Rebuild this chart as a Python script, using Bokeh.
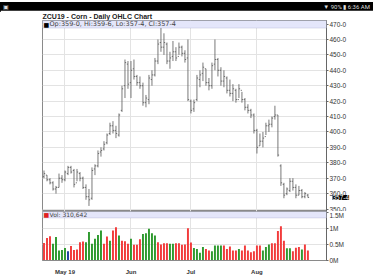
from bokeh.plotting import figure
from bokeh.models import Div, Label, BoxAnnotation, FixedTicker, Range1d
from bokeh.layouts import column
from bokeh.embed import file_html
from bokeh.resources import INLINE

# ---------------- data ----------------
dates = ["Apr 22","Apr 23","Apr 24","Apr 25","Apr 26","Apr 29","Apr 30",
         "May 1","May 2","May 3","May 6","May 7","May 8","May 9","May 10","May 13","May 14","May 15","May 16","May 17",
         "May 20","May 21","May 22","May 23","May 24","May 28","May 29","May 30","May 31",
         "Jun 3","Jun 4","Jun 5","Jun 6","Jun 7","Jun 10","Jun 11","Jun 12","Jun 13","Jun 14","Jun 17","Jun 18",
         "Jun 19","Jun 20","Jun 21","Jun 24","Jun 25","Jun 26","Jun 27","Jun 28",
         "Jul 1","Jul 2","Jul 3","Jul 5","Jul 8","Jul 9","Jul 10","Jul 11","Jul 12","Jul 15","Jul 16","Jul 17",
         "Jul 18","Jul 19","Jul 22","Jul 23","Jul 24","Jul 25","Jul 26","Jul 29","Jul 30","Jul 31",
         "Aug 1","Aug 2","Aug 5","Aug 6","Aug 7","Aug 8","Aug 9","Aug 12","Aug 13","Aug 14","Aug 15","Aug 16",
         "Aug 19","Aug 20","Aug 21","Aug 22","Aug 23","Aug 26"]

opens  = [371,372,369,367,363,364,370,369,373,377,375,367,373,370,364,358,357,376,378,387,389,393,399,404,401,398,414,430,444,
          432,441,436,432,430,419,421,434,437,446,458,455,457,446,449,452,449,455,451,448,
          420,415,421,434,438,441,432,430,444,447,440,433,435,427,425,427,421,427,421,416,414,411,
          401,391,394,397,404,405,410,411,378,366,360,362,368,364,359,362,358,359]
highs  = [375,372,370,368,365,373,372,375,378,378,376,376,374,371,366,363,377,379,388,390,394,399,406,407,404,412,430,447,446,
          446,447,437,436,432,424,437,440,448,460,469,464,458,452,459,455,458,456,453,460,
          421,421,437,440,445,441,435,445,460,448,442,440,436,434,431,428,431,426,422,418,415,412,
          402,399,400,406,408,410,417,411,379,367,364,370,370,366,365,363,361,359.75]
lows   = [370,368,366,362,360,364,367,368,372,373,364,368,368,363,356,352,356,372,377,384,388,392,398,399,396,397,413,422,428,
          422,434,430,428,417,416,418,430,436,444,452,450,444,441,446,446,450,449,445,420,
          412,413,420,429,433,430,427,428,440,436,430,429,425,423,420,419,422,419,414,412,409,399,
          386,391,390,398,400,403,408,384,365,357,359,361,362,357,359,357,357,357.5]
closes = [373,369,367,363,364,370,369,374,377,374,366,374,370,364,358,356,375,378,386,388,392,398,404,401,399,411,428,445,431,
          440,436,432,430,419,422,435,437,446,457,455,458,446,448,452,448,455,451,447,421,
          414,419,435,437,442,432,430,443,447,440,433,436,427,425,428,421,428,421,416,414,411,401,
          390,394,396,404,405,409,411,385,367,359,363,368,364,359,362,358,360,357.5]
volumes = [550000,700000,760000,520000,730000,310000,330000,390000,290000,450000,330000,340000,570000,590000,570000,
           890000,520000,680000,800000,940000,520000,750000,620000,940000,1040000,780000,620000,600000,520000,
           680000,490000,490000,660000,830000,850000,990000,850000,780000,570000,500000,540000,540000,520000,
           520000,540000,540000,490000,500000,1010000,
           560000,390000,360000,240000,420000,360000,310000,290000,470000,470000,470000,470000,360000,440000,
           310000,310000,360000,310000,470000,310000,260000,290000,470000,470000,310000,420000,500000,540000,
           540000,920000,1070000,620000,380000,380000,290000,400000,420000,340000,500000,310642]
vol_dir = ["d","d","d","u","u","u","u","u","n","d","d","d","d","d","u","u","u","u","u","u","d","d","u","d","d","u",
           "d","d","d","u","d","d","d","u","u","u","u","u","d","d","d","d","u","u","d","d","d","d","d",
           "d","u","u","u","u","d","d","u","u","u","u","d","d","d","d","d","u","d","d","d","d","d","d","d",
           "u","u","u","d","d","d","d","d","u","u","d","d","d","u","d","d"]
month_ticks = [7, 29, 49, 71]
month_labels = ["May 19", "Jun", "Jul", "Aug"]
price_ticks = list(range(350, 480, 10))
vol_ticks = [0, 0.5, 1, 1.5]

# ---------------- helpers ----------------
def eighths(val):
    whole = int(val)
    return f"{whole}-{int(round((val - whole) * 8))}"

idx = list(range(len(dates)))
vol_m = [x / 1e6 for x in volumes]
dir_colors = {"u": "#2f9a2f", "d": "#f23b3b", "n": "#1f3f9f"}
vcolors = [dir_colors[d] for d in vol_dir]

FONT = "Liberation Sans"
x_rng = Range1d(-0.5, 94.2)
grid_col = "#e3e3e3"
frame_col = "#8a8a8a"

# ---------------- status bar ----------------
status = Div(text='<div style="width:373px;height:10px;background:#000;color:#ddd;font:6px Roboto;'
                  'line-height:10px;position:relative;overflow:hidden">'
                  '<span style="position:absolute;left:3px;top:0">&#9635;</span>'
                  '<span style="position:absolute;right:3px;top:0">&#9660; 90% &#9646; 6:36 AM</span></div>',
             width=373, height=10, margin=(0, 0, 0, 0))

# ---------------- price panel ----------------
p = figure(width=373, height=201, x_range=x_rng, y_range=Range1d(348.4, 472.3),
           output_backend="svg", toolbar_location=None, x_axis_location=None,
           y_axis_location="right", min_border_left=42, min_border_right=47,
           min_border_top=0, min_border_bottom=0)
p.title.text = "ZCU19 - Corn - Daily OHLC Chart"
p.title.text_font = FONT
p.title.text_font_size = "7px"
p.title.text_font_style = "bold"
p.title.text_color = "#222"
p.title.standoff = 1
p.outline_line_color = frame_col

p.yaxis.ticker = FixedTicker(ticks=price_ticks)
p.yaxis.major_label_overrides = {t: f"{t}-0" for t in price_ticks}
p.yaxis.major_label_text_font = FONT
p.yaxis.major_label_text_font_size = "6.5px"
p.yaxis.major_label_text_color = "#333"
p.yaxis.axis_line_color = "#666"
p.yaxis.major_tick_out = 2
p.yaxis.major_tick_in = 0
p.yaxis.major_tick_line_color = "#666"
p.yaxis.minor_tick_line_color = None
p.yaxis.major_label_standoff = 1
p.ygrid.ticker = FixedTicker(ticks=price_ticks)
p.ygrid.grid_line_color = grid_col
p.xgrid.ticker = FixedTicker(ticks=month_ticks)
p.xgrid.grid_line_color = grid_col

bar_col = "#555555"
p.segment(x0=idx, y0=lows, x1=idx, y1=highs, line_color=bar_col, line_width=0.8)
p.segment(x0=[i - 0.4 for i in idx], y0=opens, x1=idx, y1=opens, line_color=bar_col, line_width=0.8)
p.segment(x0=idx, y0=closes, x1=[i + 0.4 for i in idx], y1=closes, line_color=bar_col, line_width=0.8)

band_bottom = p.y_range.end - 4.9
p.add_layout(BoxAnnotation(bottom=band_bottom, fill_color="#e4e6fa", fill_alpha=1,
                           line_color="#9aa0c8", line_width=1, level="overlay"))
band_mid = (p.y_range.end + band_bottom) / 2
p.add_layout(Label(x=x_rng.start, y=band_mid, x_offset=1, text="\u25a0", text_font="DejaVu Sans",
                   text_font_size="6px", text_color="black", text_baseline="middle", level="overlay"))
legend_txt = (f"Op:{eighths(opens[-1])}, Hi:{eighths(highs[-1])}, "
              f"Lo:{eighths(lows[-1])}, Cl:{eighths(closes[-1])}")
p.add_layout(Label(x=x_rng.start, y=band_mid, x_offset=7, text=legend_txt, text_font="DejaVu Sans",
                   text_font_size="6.5px", text_color="#444", text_baseline="middle", level="overlay"))

# current price marker drawn over the right axis labels
p.add_layout(Label(x=-17, x_units="screen", y=closes[-1], text=eighths(closes[-1]), text_font=FONT,
                   text_font_size="6.5px", text_color="white", text_baseline="middle",
                   background_fill_color="black", level="overlay"), "right")

# ---------------- volume panel ----------------
v = figure(width=373, height=69, x_range=x_rng, y_range=Range1d(0, 1.53),
           output_backend="svg", toolbar_location=None, y_axis_location="right",
           min_border_left=42, min_border_right=47, min_border_top=0, min_border_bottom=20)
v.outline_line_color = frame_col
v.vbar(x=idx, top=vol_m, width=0.65, fill_color=vcolors, line_color=None)

v.yaxis.ticker = FixedTicker(ticks=vol_ticks)
v.yaxis.major_label_overrides = {0: "0M", 0.5: "0.5M", 1: "1M", 1.5: "1.5M"}
v.yaxis.major_label_text_font = FONT
v.yaxis.major_label_text_font_size = "6.5px"
v.yaxis.major_label_text_color = "#333"
v.yaxis.axis_line_color = "#666"
v.yaxis.major_tick_out = 2
v.yaxis.major_tick_in = 0
v.yaxis.major_tick_line_color = "#666"
v.yaxis.minor_tick_line_color = None
v.yaxis.major_label_standoff = 1
v.ygrid.ticker = FixedTicker(ticks=vol_ticks)
v.ygrid.grid_line_color = grid_col

v.xaxis.ticker = FixedTicker(ticks=month_ticks)
v.xaxis.major_label_overrides = dict(zip(month_ticks, month_labels))
v.xaxis.major_label_text_font = FONT
v.xaxis.major_label_text_font_size = "6px"
v.xaxis.major_label_text_font_style = "bold"
v.xaxis.major_label_text_color = "#333"
v.xaxis.axis_line_color = frame_col
v.xaxis.major_tick_line_color = None
v.xaxis.minor_tick_line_color = None
v.xaxis.major_label_standoff = 2
v.xgrid.ticker = FixedTicker(ticks=month_ticks)
v.xgrid.grid_line_color = grid_col

vband_bottom = v.y_range.end - 0.2
v.add_layout(BoxAnnotation(bottom=vband_bottom, fill_color="#e4e6fa", fill_alpha=1,
                           line_color="#9aa0c8", line_width=1, level="overlay"))
vband_mid = (v.y_range.end + vband_bottom) / 2
v.add_layout(Label(x=x_rng.start, y=vband_mid, x_offset=1, text="\u25a0", text_font="DejaVu Sans",
                   text_font_size="6px", text_color="#e02020", text_baseline="middle", level="overlay"))
v.add_layout(Label(x=x_rng.start, y=vband_mid, x_offset=7, text=f"Vol: {volumes[-1]:,}", text_font="DejaVu Sans",
                   text_font_size="6px", text_color="#444", text_baseline="middle", level="overlay"))

layout = column(status, p, v, spacing=0)
open("out.html", "w").write(file_html(layout, INLINE))
